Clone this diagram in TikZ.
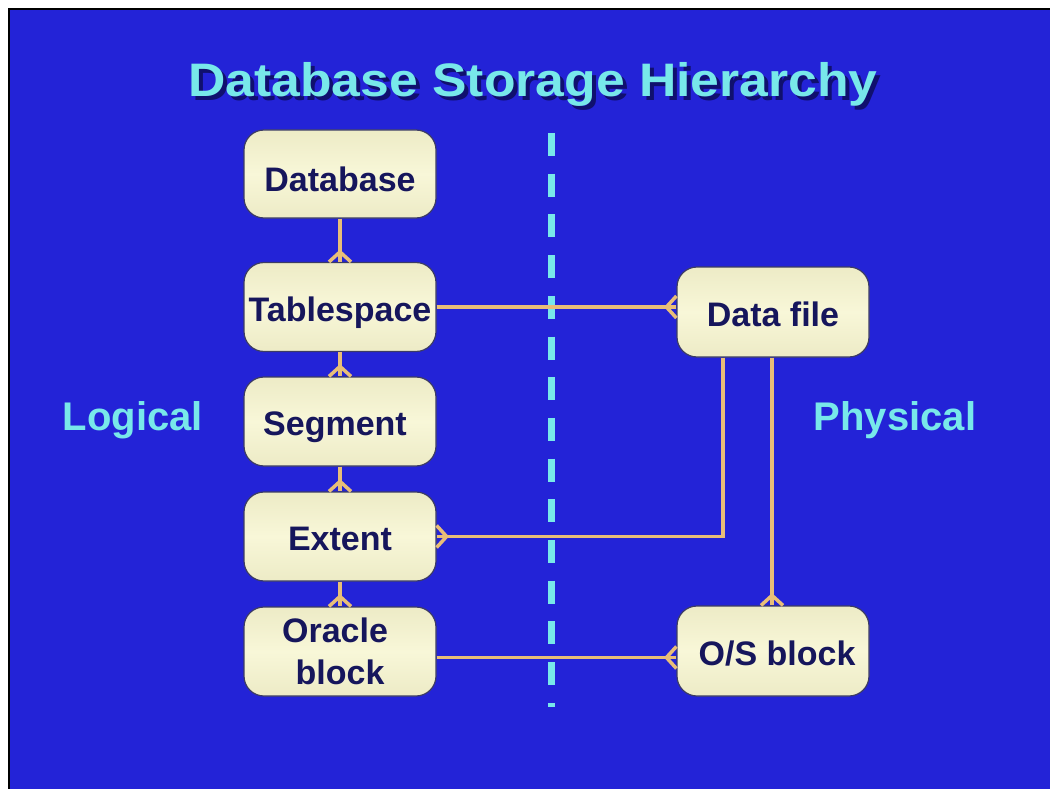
\documentclass[tikz,border=0pt]{standalone}
\usepackage{fontspec}
\setmainfont{Liberation Sans}
\usepackage{graphicx}
\definecolor{bg}{RGB}{35,35,215}
\definecolor{cyanT}{RGB}{120,232,234}
\definecolor{navy}{RGB}{22,22,92}
\definecolor{shadowc}{RGB}{16,16,110}
\definecolor{tanc}{RGB}{232,190,120}
\definecolor{creamA}{RGB}{248,247,216}
\definecolor{creamB}{RGB}{237,235,198}
\definecolor{boxedge}{RGB}{60,60,100}
\tikzset{
  box/.style={draw=boxedge, line width=1.2pt, rounded corners=20pt,
    shading=axis, shading angle=150, top color=creamB, bottom color=creamB, middle color=creamA,
    minimum width=192pt, minimum height=89pt, inner sep=0pt,
    font=\fontsize{34}{42}\selectfont\bfseries, text=navy, align=center},
  oneline/.style={text height=28pt, text depth=0pt},
  conn/.style={draw=tanc, line width=3.5pt},
  lbl/.style={font=\fontsize{40}{40}\selectfont\bfseries, text=cyanT},
  ttl/.style={font=\fontsize{47}{47}\selectfont\bfseries},
  crow/.pic={\draw[conn] (-11pt,0pt) -- (0pt,10pt) -- (11pt,0pt);}
}
\begin{document}
\begin{tikzpicture}[x=1pt,y=-1pt]
\useasboundingbox (0,0) rectangle (1050,789);
\fill[white] (0,0) rectangle (1050,789);
\fill[bg] (9,9) rectangle (1050,789);
\draw[black, line width=2pt] (9,789) -- (9,9) -- (1050,9);

% title
\node[ttl, text=shadowc] (titleshadow) at (537,88) {\scalebox{1.1}[1]{Database Storage Hierarchy}};
\node[ttl, text=cyanT] (title) at (533,84) {\scalebox{1.1}[1]{Database Storage Hierarchy}};

% divider
\coordinate (divtop) at (551,133);
\coordinate (divbot) at (551,707);
\draw[cyanT, line width=7pt, dash pattern=on 23pt off 17.7pt] (divtop) -- (divbot);

% side labels
\node[lbl] (logical) at (133,420) {Logical};
\node[lbl] (physical) at (895,420) {Physical};

% boxes
\node[box, minimum height=88pt, text height=34pt, text depth=0pt] (db) at (340,174) {Database};
\node[box, oneline] (ts) at (340,307) {Tablespace};
\node[box, oneline] (sg) at (340,421.5) {\hspace*{-10pt}Segment};
\node[box, oneline] (ex) at (340,536.5) {Extent};
\node[box] (ob) at (340,651.5) {\raisebox{-3pt}{\hspace*{-10pt}Oracle}\\\raisebox{-3pt}{block}};
\node[box, minimum height=90pt, oneline] (df) at (773,312) {Data file};
\node[box, minimum height=90pt, oneline] (os) at (773,651) {\hspace*{8pt}O/S block};

% connectors
\draw[conn] (db.south) -- (ts.north);
\pic at (ts.north) {crow};
\draw[conn] (ts.south) -- (sg.north);
\pic at (sg.north) {crow};
\draw[conn] (sg.south) -- (ex.north);
\pic at (ex.north) {crow};
\draw[conn] (ex.south) -- (ob.north);
\pic at (ob.north) {crow};

\draw[conn] (ts.east) -- (ts.east -| df.west);
\pic[rotate=90] at (ts.east -| df.west) {crow};

\draw[conn] ([xshift=-50pt]df.south) |- (ex.east);
\pic[rotate=-90] at (ex.east) {crow};

\draw[conn] ([xshift=-1pt]df.south) -- ([xshift=-1pt]os.north);
\pic at ([xshift=-1pt]os.north) {crow};

\draw[conn] ([yshift=-6pt]ob.east) -- ([yshift=-6pt]ob.east -| os.west);
\pic[rotate=90] at ([yshift=-6pt]ob.east -| os.west) {crow};
\end{tikzpicture}
\end{document}
